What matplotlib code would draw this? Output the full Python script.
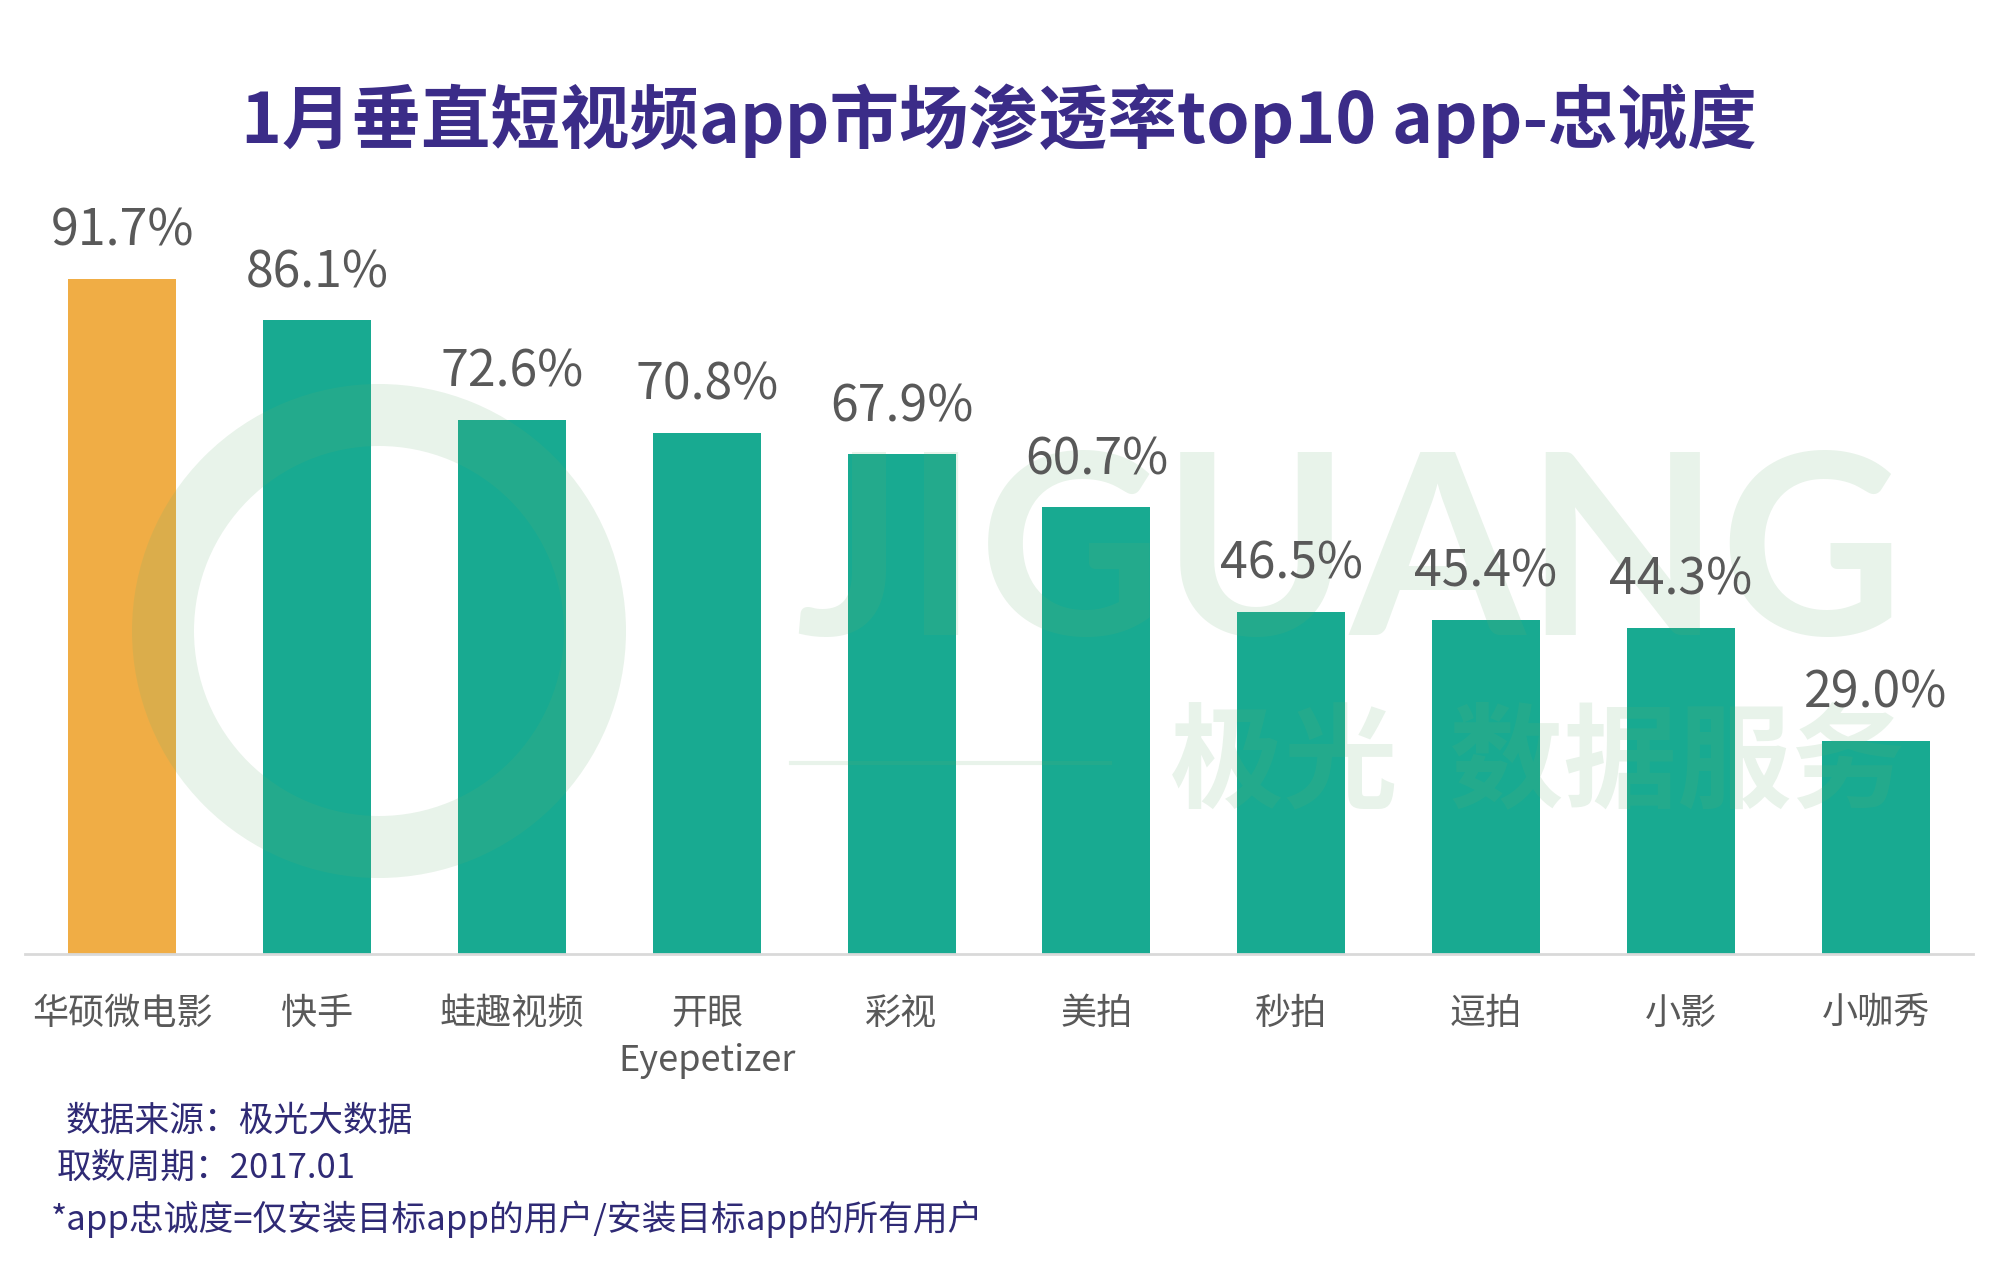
import matplotlib.pyplot as plt
from matplotlib.patches import Wedge

plt.rcParams['font.family'] = ['Noto Sans CJK SC', 'DejaVu Sans']

# data
apps = ['华硕微电影', '快手', '蛙趣视频', '开眼\nEyepetizer', '彩视',
        '美拍', '秒拍', '逗拍', '小影', '小咖秀']
loyalty = [91.7, 86.1, 72.6, 70.8, 67.9, 60.7, 46.5, 45.4, 44.3, 29.0]

title = '1月垂直短视频app市场渗透率top10 app-忠诚度'
notes = ['数据来源：极光大数据', '取数周期：2017.01',
         '*app忠诚度=仅安装目标app的用户/安装目标app的所有用户']

teal = '#18aa91'
orange = '#f0ad45'
grey = '#595959'
purple = '#3b2c88'
wm = '#66af73'   # watermark tint, drawn with low alpha
wm_alpha = 0.15

fig = plt.figure(figsize=(20, 12.73), dpi=100)
ax = fig.add_axes([0.0125, 0.2506, 0.974, 0.578])

colors = [orange] + [teal] * (len(apps) - 1)
x = range(len(apps))
ax.bar(x, loyalty, width=0.555, color=colors, zorder=2)

for i, v in enumerate(loyalty):
    ax.annotate(f'{v:.1f}%', (i, v), xytext=(0, 24), textcoords='offset points',
                ha='center', va='baseline', fontsize=36, color=grey,
                fontweight='light', annotation_clip=False, zorder=5)

ax.set_xlim(-0.5, len(apps) - 0.5)
ax.set_ylim(0, 100)
ax.set_xticks(list(x))
ax.set_xticklabels(apps, fontsize=26, color=grey, linespacing=1.4)
ax.tick_params(axis='x', length=0, pad=30)
ax.set_yticks([])
for s in ['top', 'right', 'left']:
    ax.spines[s].set_visible(False)
ax.spines['bottom'].set_color('#d9d9d9')
ax.spines['bottom'].set_linewidth(2)
ax.spines['bottom'].set_zorder(3)

# faint watermark (logo ring + text), laid over the bars
ax.add_patch(Wedge((3.79, 6.42), 2.47, 0, 360, width=0.62, transform=fig.dpi_scale_trans,
                   color=wm, alpha=wm_alpha, lw=0, clip_on=False, zorder=3))
ax.text(0.675, 1 - 562 / 1273, 'JIGUANG', fontsize=182, fontweight='bold',
        color=wm, alpha=wm_alpha, ha='center', va='center', zorder=3,
        transform=fig.transFigure, family=['Lato', 'DejaVu Sans'])
ax.text(0.769, 1 - 765 / 1273, '极光  数据服务', fontsize=82, fontweight='bold',
        color=wm, alpha=wm_alpha, ha='center', va='center', zorder=3,
        transform=fig.transFigure)
ax.plot([791 / 2000, 1110 / 2000], [1 - 763 / 1273] * 2, transform=fig.transFigure,
        color=wm, lw=3, alpha=wm_alpha, clip_on=False, zorder=3)

fig.text(0.4995, 1 - 121 / 1273, title, fontsize=50, fontweight='bold',
         color=purple, ha='center', va='center')

ys = [1121, 1168, 1219]
xs = [66, 57, 51]
for t, xx, yy in zip(notes, xs, ys):
    fig.text(xx / 2000, 1 - yy / 1273, t, fontsize=25, style='italic',
             color='#2f2a75', ha='left', va='center')

fig.savefig('out.png', dpi=100, facecolor='white')
